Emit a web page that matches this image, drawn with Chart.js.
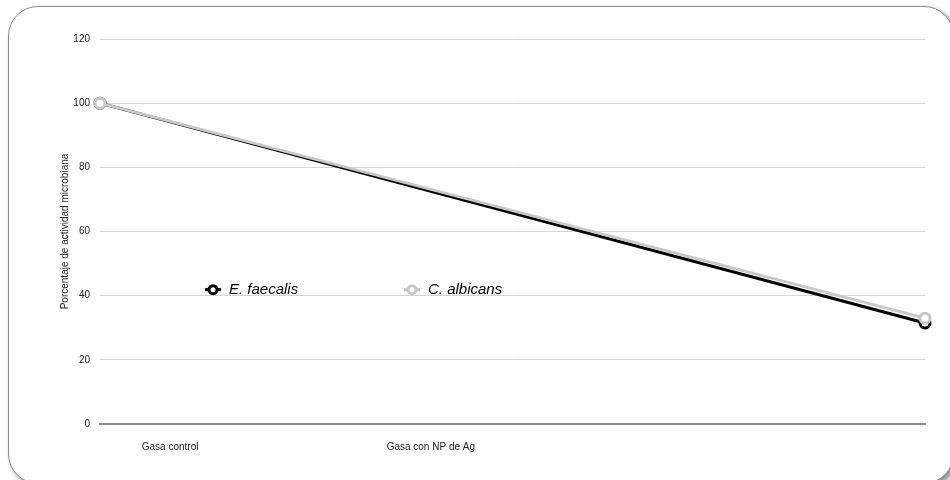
<!DOCTYPE html>
<html>
<head>
<meta charset="utf-8">
<script src="https://cdn.jsdelivr.net/npm/chart.js@4"></script>
<style>
  html, body { margin: 0; padding: 0; background: #fff; }
  #wrap { position: relative; width: 950px; height: 480px; overflow: hidden; }
  #frame { position: absolute; left: 8px; top: 6px; width: 946px; height: 478px; box-sizing: border-box;
           border: 1.5px solid #8a8a8a; border-radius: 30px; box-shadow: 3px 3px 5px rgba(0,0,0,0.45); background: #fff; }
  #c { position: absolute; left: 0; top: 0; }
</style>
</head>
<body>
<div id="wrap">
  <div id="frame"></div>
  <canvas id="c" width="950" height="480"></canvas>
</div>
<script>
const categories = ["Gasa control", "Gasa con NP de Ag"];
const seriesNames = ["E. faecalis", "C. albicans"];
const faecalis = [100, 31.5];
const albicans = [100, 33];
const yTicks = [0, 20, 40, 60, 80, 100, 120];
const yTitle = "Porcentaje de actividad microbiana";

const labelPos = [0.085, 0.401]; // where the category labels sit along the axis
const colors = ["#000000", "#c8c8c8"];

function pts(arr) { return arr.map((v, i) => ({ x: i, y: v })); }

const legendPlugin = {
  id: 'inlineLegend',
  afterDatasetsDraw(chart) {
    const ctx = chart.ctx;
    const y = chart.scales.y.getPixelForValue(40) - 6;
    const xs = [213, 412];
    chart.data.datasets.forEach((ds, i) => {
      const cx = xs[i];
      ctx.save();
      ctx.strokeStyle = ds.borderColor;
      ctx.lineWidth = 3;
      ctx.beginPath(); ctx.moveTo(cx - 8, y); ctx.lineTo(cx + 8, y); ctx.stroke();
      ctx.fillStyle = '#fff';
      ctx.beginPath(); ctx.arc(cx, y, 4, 0, Math.PI * 2); ctx.fill(); ctx.stroke();
      ctx.fillStyle = '#000';
      ctx.font = 'italic 15px "Liberation Sans", Arial, sans-serif';
      ctx.textBaseline = 'middle';
      ctx.textAlign = 'left';
      ctx.fillText(ds.label, cx + 16, y);
      ctx.restore();
    });
  }
};

new Chart(document.getElementById('c'), {
  type: 'line',
  data: {
    datasets: [
      { label: seriesNames[0], data: pts(faecalis), borderColor: colors[0], backgroundColor: '#fff', clip: false,
        borderWidth: 3, pointRadius: 5, pointBorderWidth: 3, pointBackgroundColor: '#fff', order: 1 },
      { label: seriesNames[1], data: pts(albicans), borderColor: colors[1], backgroundColor: '#fff', clip: false,
        borderWidth: 3, pointRadius: 5, pointBorderWidth: 3, pointBackgroundColor: '#fff', order: 0 }
    ]
  },
  options: {
    responsive: false,
    animation: false,
    layout: { padding: { left: 55, right: 25, top: 39, bottom: 18 } },
    plugins: { legend: { display: false }, tooltip: { enabled: false } },
    scales: {
      x: {
        type: 'linear', min: 0, max: categories.length - 1,
        grid: { display: false },
        border: { display: true, color: '#8c8c8c', width: 2 },
        afterBuildTicks: (s) => { s.ticks = labelPos.map(v => ({ value: v })); },
        ticks: {
          autoSkip: false, maxRotation: 0, padding: 9,
          color: '#222', font: { family: '"Liberation Sans", Arial, sans-serif', size: 10 },
          callback: (v, i) => categories[i]
        }
      },
      y: {
        min: 0, max: 120,
        afterBuildTicks: (s) => { s.ticks = yTicks.map(v => ({ value: v })); },
        afterFit: (s) => { s.width = 45; },
        grid: { color: '#d4d4d4', lineWidth: 1, drawTicks: false },
        border: { display: false },
        ticks: { padding: 10, color: '#222', font: { family: '"Liberation Sans", Arial, sans-serif', size: 10 } },
        title: { display: true, text: yTitle, color: '#222', padding: { top: 4, bottom: 4 },
                 font: { family: '"Liberation Sans", Arial, sans-serif', size: 10 } }
      }
    }
  },
  plugins: [legendPlugin]
});
</script>
</body>
</html>
